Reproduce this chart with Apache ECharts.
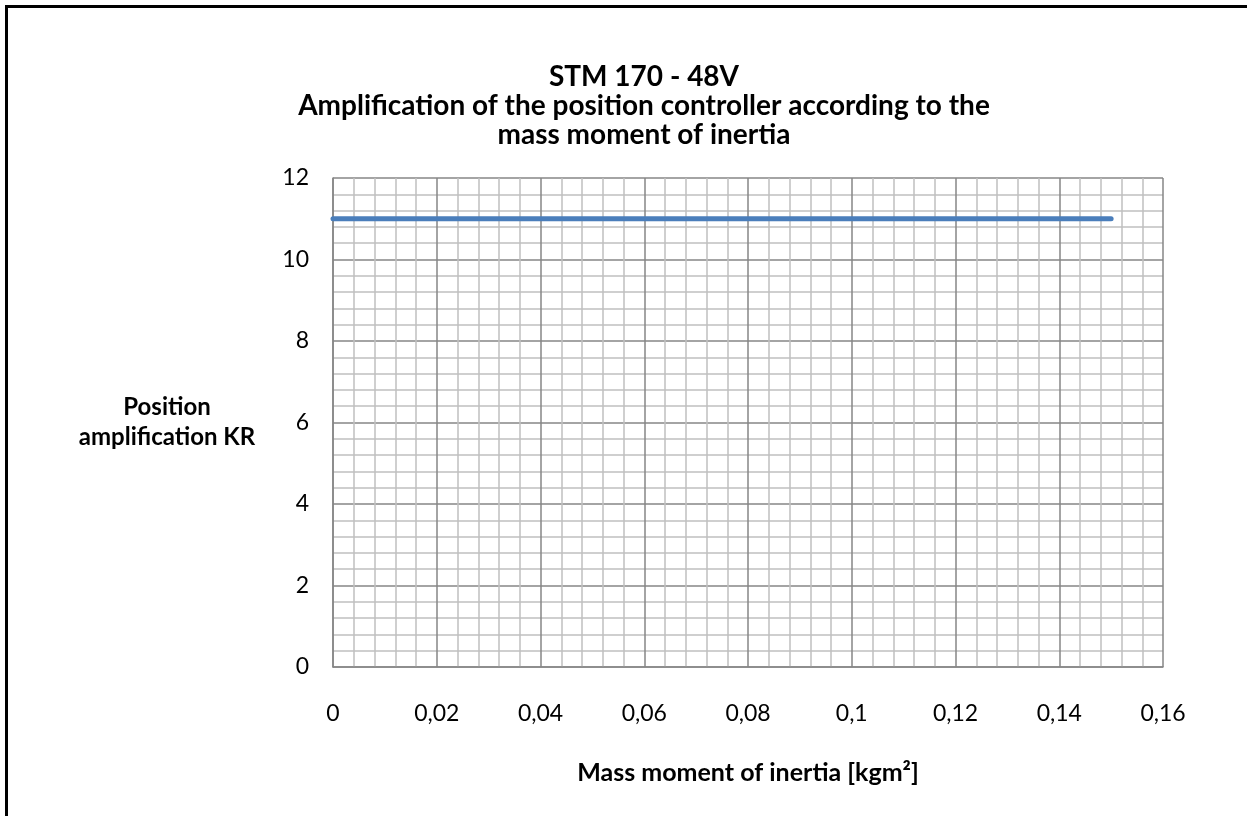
<!DOCTYPE html>
<html>
<head>
<meta charset="utf-8">
<script src="https://cdn.jsdelivr.net/npm/echarts@6/dist/echarts.min.js"></script>
<style>
html,body{margin:0;padding:0;background:#fff;}
#frame{position:absolute;left:5px;top:5px;width:1300px;height:900px;border-top:3px solid #000;border-left:3px solid #000;box-sizing:border-box;pointer-events:none;z-index:2;}
#chart{position:absolute;left:0;top:0;width:1247px;height:816px;}
</style>
</head>
<body>
<div id="chart"></div>
<div id="frame"></div>
<script>
const titleLines = ["STM 170 - 48V", "Amplification of the position controller according to the", "mass moment of inertia"];
const xAxisName = "Mass moment of inertia [kgm²]";
const yAxisName = "Position\namplification KR";
const inertia = [0, 0.15];
const kr = [11, 11];
const xTicks = { min: 0, max: 0.16, interval: 0.02 };
const yTicks = { min: 0, max: 12, interval: 2 };

const font = "Lato, 'Open Sans', sans-serif";
const chart = echarts.init(document.getElementById('chart'), null, {renderer: 'canvas'});
chart.setOption({
  backgroundColor: '#fff',
  animation: false,
  title: {
    text: titleLines.join('\n'),
    left: 639, top: 57, textAlign: 'center',
    textStyle: { fontFamily: font, fontWeight: 'bold', fontSize: 28, lineHeight: 29, color: '#000' }
  },
  grid: { left: 333, top: 178, right: 84, bottom: 149 },
  xAxis: {
    type: 'value', min: xTicks.min, max: xTicks.max, interval: xTicks.interval,
    name: xAxisName, nameLocation: 'middle', nameGap: 91,
    nameTextStyle: { fontFamily: font, fontWeight: 'bold', fontSize: 25, lineHeight: 30, color: '#000' },
    axisLine: { show: true, lineStyle: { color: '#868686', width: 1.5 } },
    axisTick: { show: false },
    axisLabel: { margin: 35, fontFamily: font, fontSize: 23, color: '#000',
      formatter: v => String(+v.toFixed(2)).replace('.', ',') },
    splitLine: { show: true, lineStyle: { color: '#868686', width: 1.5 } },
    minorTick: { show: false, splitNumber: 5 },
    minorSplitLine: { show: true, lineStyle: { color: '#c0c0c0', width: 1.5 } }
  },
  yAxis: {
    type: 'value', min: yTicks.min, max: yTicks.max, interval: yTicks.interval,
    name: yAxisName, nameLocation: 'middle', nameRotate: 0, nameGap: 166,
    nameTextStyle: { fontFamily: font, fontWeight: 'bold', fontSize: 24, color: '#000', align: 'center', lineHeight: 30 },
    axisLine: { show: true, lineStyle: { color: '#868686', width: 1.5 } },
    axisTick: { show: false },
    axisLabel: { margin: 24, fontFamily: font, fontSize: 23, color: '#000' },
    splitLine: { show: true, lineStyle: { color: '#868686', width: 1.5 } },
    minorTick: { show: false, splitNumber: 5 },
    minorSplitLine: { show: true, lineStyle: { color: '#c0c0c0', width: 1.5 } }
  },
  series: [{
    type: 'line',
    data: inertia.map((x, i) => [x, kr[i]]),
    showSymbol: false,
    lineStyle: { color: '#4a7ebb', width: 5, cap: 'round' },
    z: 5
  }]
});
</script>
</body>
</html>
